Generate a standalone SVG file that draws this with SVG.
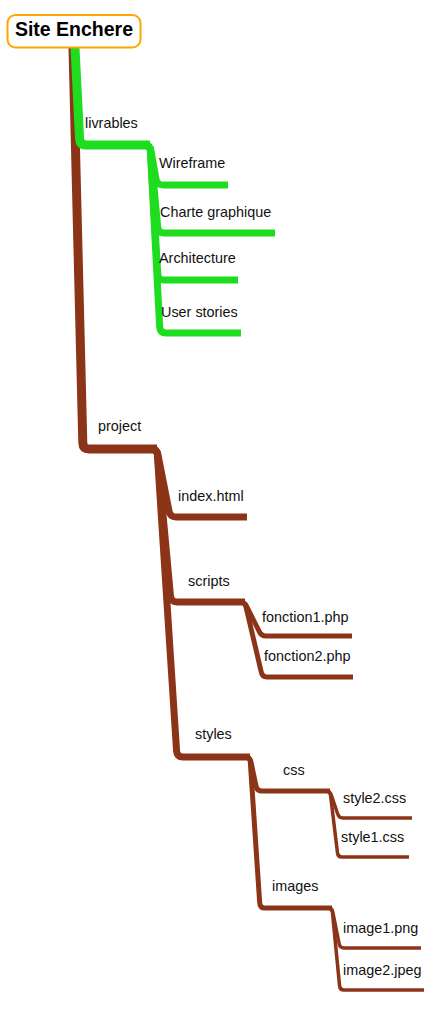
<svg xmlns="http://www.w3.org/2000/svg" width="448" height="1017" viewBox="0 0 448 1017">
<style>
.e{fill:none;stroke-linejoin:round;stroke-linecap:butt}
.g{stroke:#1EDC1E}
.b{stroke:#8B3418}
.d1{stroke-width:9}
.d2{stroke-width:7}
.d3{stroke-width:5}
.d4{stroke-width:3.5}
text{font-family:"Liberation Sans",Arial,sans-serif;font-size:14.4px;fill:#111}
.root{font-size:19.5px;font-weight:bold;text-anchor:middle;fill:#000}
</style>
<rect width="448" height="1017" fill="#fff"/>
<g id="connectors">
<path class="e b d1" d="M73,48 L82.8,443 Q83,449 89,449 L157,449"/>
<path class="e b d2" d="M151,449 Q157,449 158,455 L169,511 Q170,517 176,517 L247,517"/>
<path class="e b d2" d="M151,449 Q157,449 157.5,455 L170.5,596 Q171,602 177,602 L245,602"/>
<path class="e b d2" d="M151,449 Q157,449 157.4,455 L176.6,751 Q177,757 183,757 L250,757"/>
<path class="e b d3" d="M240,602 Q245,602 247,607 L259,631 Q261,636 266,636 L352,636"/>
<path class="e b d3" d="M240,602 Q245,602 246,607 L261,671 Q262,677 267,677 L353,677"/>
<path class="e b d3" d="M245,757 Q250,757 251,762 L256,786 Q257,791 262,791 L330,791"/>
<path class="e b d3" d="M245,757 Q250,757 250.3,762 L259.7,903 Q260,908 265,908 L332,908"/>
<path class="e b d4" d="M326,791 Q330,791 331.3,795 L337.7,814 Q339,818 343,818 L412,818"/>
<path class="e b d4" d="M326,791 Q330,791 330.5,795 L337.5,853 Q338,857 342,857 L409,857"/>
<path class="e b d4" d="M328,908 Q332,908 332.8,912 L339.2,944 Q340,948 344,948 L421,948"/>
<path class="e b d4" d="M328,908 Q332,908 332.4,912 L339.6,986 Q340,990 344,990 L424,990"/>
<path class="e g d1" d="M75,48 L79.6,139 Q80,145 86,145 L150,145"/>
<path class="e g d2" d="M144,145 Q150,145 151,151 L156,179 Q157,185 163,185 L228,185"/>
<path class="e g d2" d="M144,145 Q150,145 150.6,151 L157.7,227 Q158,233 164,233 L275,233"/>
<path class="e g d2" d="M144,145 Q150,145 150.4,151 L157.8,274 Q158,280 164,280 L238,280"/>
<path class="e g d2" d="M144,145 Q150,145 150.4,151 L159.7,327 Q160,333 166,333 L241,333"/>
</g>
<g id="node-root">
<rect x="7.5" y="15" width="133" height="32.5" rx="8" fill="#fff" stroke="#FFA500" stroke-width="2"/>
<text class="root" x="74" y="36">Site Enchere</text>
</g>
<g id="node-livrables"><text x="85" y="128">livrables</text></g>
<g id="node-wireframe"><text x="159" y="168">Wireframe</text></g>
<g id="node-charte"><text x="160" y="217">Charte graphique</text></g>
<g id="node-architecture"><text x="159" y="263">Architecture</text></g>
<g id="node-userstories"><text x="161" y="317">User stories</text></g>
<g id="node-project"><text x="98" y="431">project</text></g>
<g id="node-index"><text x="178" y="501">index.html</text></g>
<g id="node-scripts"><text x="188" y="586">scripts</text></g>
<g id="node-fonction1"><text x="262" y="622">fonction1.php</text></g>
<g id="node-fonction2"><text x="264" y="661">fonction2.php</text></g>
<g id="node-styles"><text x="195" y="739">styles</text></g>
<g id="node-css"><text x="283" y="775">css</text></g>
<g id="node-style2"><text x="343" y="803">style2.css</text></g>
<g id="node-style1"><text x="341" y="842">style1.css</text></g>
<g id="node-images"><text x="272" y="891">images</text></g>
<g id="node-image1"><text x="343" y="933">image1.png</text></g>
<g id="node-image2"><text x="343" y="975">image2.jpeg</text></g>
</svg>
